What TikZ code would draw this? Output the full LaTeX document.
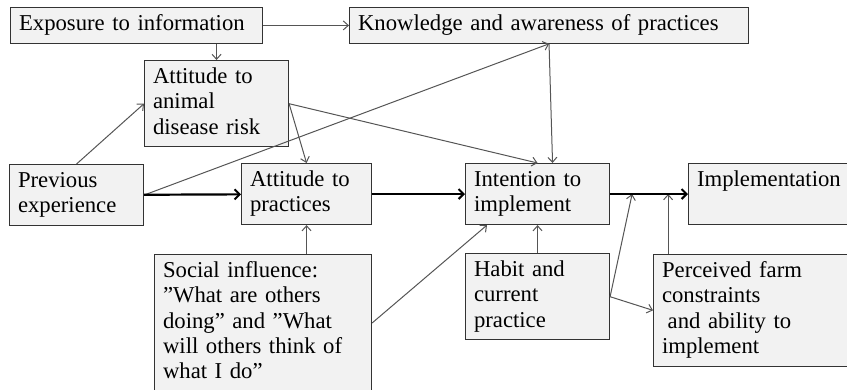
\documentclass[tikz,border=0pt]{standalone}
\usepackage{fontspec}
\setmainfont{Liberation Serif}
\usepackage{tikz}
\usetikzlibrary{arrows.meta,calc}
\usepackage{xcolor}
\definecolor{boxfill}{HTML}{F2F2F2}
\definecolor{boxline}{HTML}{333333}
\definecolor{linkline}{HTML}{555555}

\begin{document}
\begin{tikzpicture}[x=1pt, y=-1pt,
  box/.style={draw=boxline, fill=boxfill, line width=1.1pt, anchor=north west, align=left,
    inner xsep=8.5pt, inner ysep=5.2pt, font=\fontsize{22.7}{25.3}\selectfont,
    execute at begin node=\strut, execute at end node=\strut},
  link/.style={draw=linkline, line width=1pt, -{Straight Barb[length=5pt,width=9pt]}},
  mainlink/.style={draw=black, line width=2.2pt, -{Straight Barb[length=5pt,width=10pt,line width=2pt]}}]
  \clip (0,0) rectangle (847,389);

  \node[box, text width=235pt] (expo) at (10,7) {Exposure to information};
  \node[box, text width=382pt] (know) at (349,7) {Knowledge and awareness of practices};
  \node[box, text width=127pt] (risk) at (144,60) {Attitude to\\animal\\disease risk};
  \node[box, text width=117pt] (prev) at (9,164) {Previous\\experience};
  \node[box, text width=113pt] (pract) at (241,163) {Attitude to\\practices};
  \node[box, text width=127pt] (intent) at (465,163) {Intention to\\implement};
  \node[box, text width=180pt] (impl) at (688,163) {Implementation\\};
  \node[box, text width=200pt] (social) at (154,254) {Social influence:\\”What are others\\doing” and ”What\\will others think of\\what I do”};
  \node[box, text width=127pt] (habit) at (465,253) {Habit and\\current\\practice};
  \node[box, text width=200pt] (perc) at (653,254) {Perceived farm\\constraints\\\hspace*{0.25em}and ability to\\implement};

  \coordinate (j1) at ($(intent.east)+(22,0)$);
  \coordinate (j2) at ($(intent.east)+(58,0)$);

  \draw[link] (expo) -- (know);
  \draw[link] (expo.south -| risk.north) -- (risk.north);
  \draw[link] (prev.north) -- (risk.west);
  \draw[link] (prev.east) -- (know.south);
  \draw[link] (risk.east) -- (pract.north);
  \draw[link] (risk.east) -- (intent.north);
  \draw[link] (know.south) -- ($(intent.north)+(15,0)$);
  \draw[link] (social.north -| pract.south) -- (pract.south);
  \draw[link] (social.east) -- ($(intent.south west)+(22,0)$);
  \draw[link] (habit) -- (intent);
  \draw[link] (habit.east) -- (j1);
  \draw[link] (habit.east) -- (perc.west);
  \draw[link] (perc.north -| j2) -- (j2);

  \draw[mainlink] (prev) -- (pract);
  \draw[mainlink] (pract) -- (intent);
  \draw[mainlink] (intent) -- (impl);
\end{tikzpicture}
\end{document}
